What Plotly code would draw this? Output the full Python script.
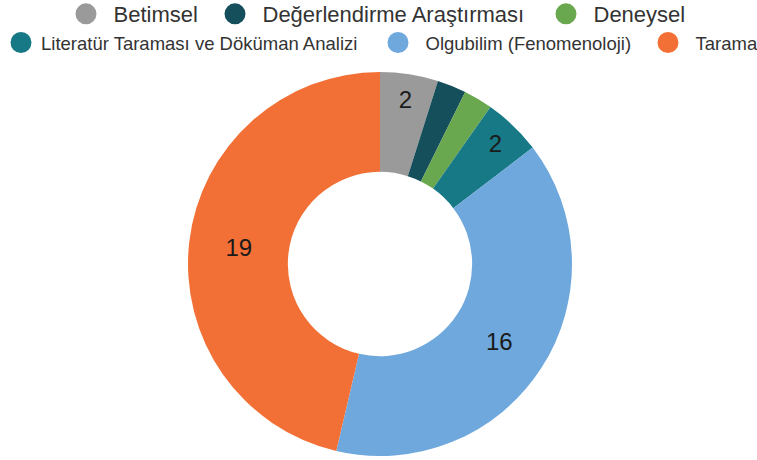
import plotly.graph_objects as go

categories = ["Betimsel", "Değerlendirme Araştırması", "Deneysel",
              "Literatür Taraması ve Döküman Analizi", "Olgubilim (Fenomenoloji)", "Tarama"]
values = [2, 1, 1, 2, 16, 19]
colors = ["#9a9a9a", "#154f5c", "#6aa84f", "#167985", "#6fa8dc", "#f27036"]

labels_text = [str(v) if v > 1 else "" for v in values]

# legend layout (pixel positions of each entry's symbol centre, row font sizes)
legend_cx = [86, 235, 566, 21, 398, 668]
legend_cy = [14, 14, 14, 43, 43, 43]
legend_fs = [22, 22, 22, 18.5, 18.5, 18.5]
legend_iw = [45, 45, 45, 30, 45, 45]
W, H = 757, 460

fig = go.Figure()
fig.add_trace(go.Pie(
    labels=categories, values=values, text=labels_text,
    textinfo="text", textposition="inside", insidetextorientation="horizontal",
    textfont=dict(size=24, color="#1a1a1a", family="Liberation Sans, Arial"),
    marker=dict(colors=colors, line=dict(width=0)),
    hole=0.48, sort=False, direction="clockwise", rotation=0,
    showlegend=False, domain=dict(x=[0, 1], y=[0, 1]),
))

legend_layouts = {}
for i, (cat, col) in enumerate(zip(categories, colors)):
    lname = "legend" if i == 0 else f"legend{i + 1}"
    fig.add_trace(go.Scatter(
        x=[None], y=[None], mode="markers", name=cat,
        marker=dict(color=col, size=16, symbol="circle", line=dict(color=col, width=5)),
        legend=lname,
    ))
    sym_off = legend_iw[i] / 2 + 5
    legend_layouts[lname] = dict(
        orientation="h", xref="container", yref="container",
        x=max(0, (legend_cx[i] - sym_off) / W), xanchor="left",
        y=1 - legend_cy[i] / H, yanchor="middle",
        font=dict(size=legend_fs[i], color="#333333"),
        itemwidth=legend_iw[i], bgcolor="rgba(0,0,0,0)", borderwidth=0,
    )

fig.update_layout(
    width=W, height=H,
    margin=dict(l=3, r=0, t=72, b=4),
    paper_bgcolor="white", plot_bgcolor="white",
    font=dict(family="Liberation Sans, Arial", color="#333333"),
    xaxis=dict(visible=False), yaxis=dict(visible=False),
    **legend_layouts,
)

fig.write_html("out.html", config={"displayModeBar": False},
               post_script="document.body.style.margin='0';")
